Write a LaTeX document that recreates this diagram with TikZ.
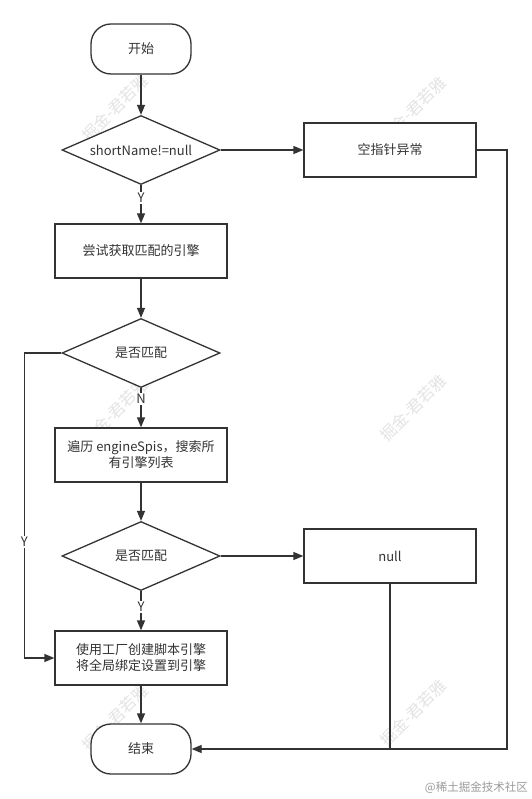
\documentclass[tikz,border=0pt]{standalone}
\usepackage{fontspec}
\setmainfont{Noto Sans CJK SC}
\usetikzlibrary{shapes.geometric,arrows.meta}
\definecolor{ln}{HTML}{333333}
\definecolor{tx}{HTML}{333333}
\definecolor{wmc}{HTML}{E4E4E4}
\definecolor{cred}{HTML}{9A9A9A}
\begin{document}
\begin{tikzpicture}[x=1pt,y=-1pt,
  font=\fontsize{13}{16}\selectfont,
  base/.style={draw=ln, line width=1.3pt, fill=white, text=tx, inner sep=0pt},
  term/.style={base, rounded corners=20pt, minimum width=100pt, minimum height=50pt},
  proc/.style={base, minimum width=172pt, minimum height=54pt, align=center},
  dec/.style={base, diamond, shape aspect=2.29, minimum width=158pt, minimum height=69pt},
  conn/.style={draw=ln, line width=1.3pt, -{Triangle[length=10pt,width=8pt]}},
  plain/.style={draw=ln, line width=1.3pt},
  lbl/.style={fill=white, text=tx, inner sep=1pt},
  wm/.style={text=wmc, rotate=45, font=\fontsize{16}{16}\selectfont}
]
\useasboundingbox (0,0) rectangle (531,799);
\fill[white] (0,0) rectangle (531,799);

% watermarks
\node[wm] (w1) at (115,108) {掘金-君若雅};
\node[wm] (w2) at (413,110) {掘金-君若雅};
\node[wm] (w3) at (115,412) {掘金-君若雅};
\node[wm] (w4) at (413,408) {掘金-君若雅};
\node[wm] (w5) at (115,718) {掘金-君若雅};
\node[wm] (w6) at (413,713) {掘金-君若雅};

% nodes
\node[term] (start) at (141,49) {开始};
\node[dec] (d1) at (141,150) {shortName!=null};
\node[proc] (npe) at (390,150) {空指针异常};
\node[proc] (try) at (141,251) {尝试获取匹配的引擎};
\node[dec] (d2) at (141,353) {是否匹配};
\node[proc] (scan) at (141,455) {遍历 engineSpis，搜索所\\有引擎列表};
\node[dec] (d3) at (141,556) {是否匹配};
\node[proc] (nul) at (390,556) {null};
\node[proc] (make) at (141,658) {使用工厂创建脚本引擎\\将全局绑定设置到引擎};
\node[term] (end) at (141,749) {结束};
\coordinate (rc) at (507,749);

% connectors
\draw[conn] (start) -- (d1.north);
\draw[conn] (d1.east) -- (npe.west);
\draw[conn] (d1.south) -- node[lbl,pos=0.33]{Y} (try.north);
\draw[conn] (try.south) -- (d2.north);
\draw[conn] (d2.south) -- node[lbl,pos=0.28]{N} (scan.north);
\draw[conn] (d2.west) -- ++(-37,0) |- node[lbl,pos=0.31]{Y} (make.west);
\draw[conn] (scan.south) -- (d3.north);
\draw[conn] (d3.east) -- (nul.west);
\draw[conn] (d3.south) -- node[lbl,pos=0.4]{Y} (make.north);
\draw[conn] (make.south) -- (end.north);
\draw[conn] (npe.east) -| (rc) -- (end.east);
\draw[plain] (nul.south) -- (nul.south |- rc);

% credit
\node[text=cred, font=\fontsize{11.5}{12}\selectfont, anchor=east, inner sep=0pt] (credit) at (528,788) {@稀土掘金技术社区};
\end{tikzpicture}
\end{document}
